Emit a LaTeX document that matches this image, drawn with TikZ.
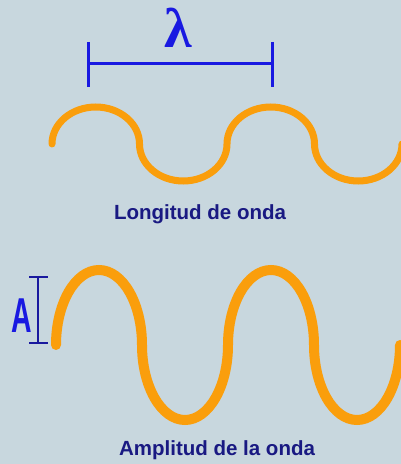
\documentclass[tikz,border=0pt]{standalone}
\usepackage{fontspec}
\setmainfont{Liberation Sans}
\newfontfamily\lambdafont{Liberation Serif}
\usepackage{tikz}
\definecolor{backdrop}{RGB}{200, 215, 222}
\definecolor{waveorange}{RGB}{250, 158, 12}
\definecolor{markblue}{RGB}{25, 25, 225}
\definecolor{labelnavy}{RGB}{25, 25, 130}

\begin{document}
\begin{tikzpicture}[x=1pt, y=1pt,
  wave/.style={draw=waveorange, line cap=round},
  measure/.style={draw=markblue},
  caption/.style={text=labelnavy, font={\fontsize{20.5}{22}\selectfont\bfseries}, inner sep=0pt},
  glyph/.style={text=markblue, inner sep=0pt}
]
\fill[backdrop] (0,0) rectangle (401,464);
\useasboundingbox (0,0) rectangle (401,464);
\node[glyph, font={\lambdafont\fontsize{56}{56}\selectfont\bfseries}] (wavelen) at (178,436) {λ};
\coordinate (wlstart) at (88,400);
\coordinate (wlend) at (272,400);
\draw[measure, line width=3pt] (wlstart) -- (wlend);
\draw[measure, line width=3pt] ([yshift=22pt]wlstart) -- ([yshift=-23pt]wlstart);
\draw[measure, line width=3pt] ([yshift=22pt]wlend) -- ([yshift=-23pt]wlend);
\draw[wave, line width=7pt] (52,320)
  arc[start angle=180, end angle=0, x radius=43.75, y radius=37]
  arc[start angle=180, end angle=360, x radius=43.75, y radius=37]
  arc[start angle=180, end angle=0, x radius=43.75, y radius=37]
  arc[start angle=180, end angle=360, x radius=43.75, y radius=37];
\node[caption] (longitud) at (200,250) {Longitud de onda};
\node[glyph, font={\fontsize{49}{49}\selectfont\bfseries}] (amp) at (22,148) {\scalebox{0.58}[1]{A}};
\coordinate (amptop) at (38,187);
\coordinate (ampbot) at (38,121);
\draw[draw=labelnavy!70!markblue, line width=1.6pt] (amptop) -- (ampbot);
\draw[draw=labelnavy!70!markblue, line width=1.6pt] ([xshift=-9pt]amptop) -- ([xshift=10pt]amptop);
\draw[draw=labelnavy!70!markblue, line width=1.6pt] ([xshift=-9pt]ampbot) -- ([xshift=10pt]ampbot);
\draw[wave, line width=10pt] (56,119)
  arc[start angle=180, end angle=0, x radius=43, y radius=75]
  arc[start angle=180, end angle=360, x radius=43, y radius=75]
  arc[start angle=180, end angle=0, x radius=43, y radius=75]
  arc[start angle=180, end angle=360, x radius=43, y radius=75];
\node[caption] (amplitud) at (217,14) {Amplitud de la onda};
\end{tikzpicture}
\end{document}
